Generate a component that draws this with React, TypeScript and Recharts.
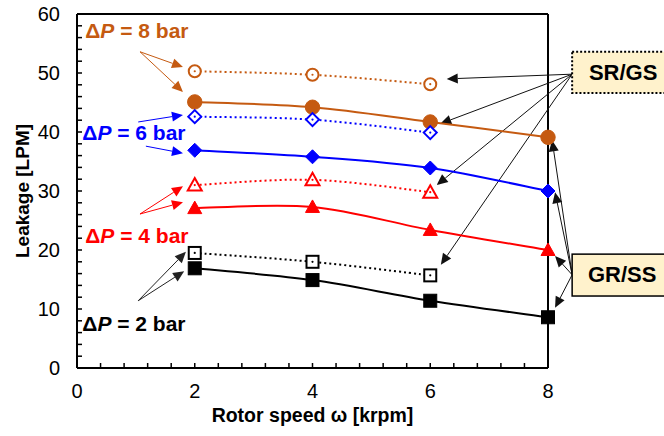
import React from "react";
import { LineChart, Line, XAxis, YAxis, usePlotArea } from "recharts";

// rotor speed [krpm]
const speeds = [2, 4, 6, 8];

// GR/SS (solid markers, solid lines)
const grss8 = [45.1, 44.2, 41.7, 39.1];
const grss6 = [36.9, 35.8, 33.9, 30.0];
const grss4 = [27.1, 27.3, 23.4, 20.0];
const grss2 = [16.9, 14.9, 11.4, 8.6];

// SR/GS (hollow markers, dotted lines) - no 8 krpm point
const srgs8 = [50.3, 49.7, 48.1];
const srgs6 = [42.6, 42.1, 39.9];
const srgs4 = [31.0, 31.9, 29.8];
const srgs2 = [19.5, 18.0, 15.7];

const xLabels = [0, 2, 4, 6, 8];
const yLabels = [0, 10, 20, 30, 40, 50, 60];
const xMinorStep = 0.4;
const yMinorStep = 2;

const BROWN = "#C55A11";
const BLUE = "#0000FF";
const RED = "#FF0000";
const BLACK = "#000000";
const FONT = "'Liberation Sans', Arial, sans-serif";

const data = speeds.map((s, i) => ({
  speed: s,
  g8: grss8[i],
  g6: grss6[i],
  g4: grss4[i],
  g2: grss2[i],
  s8: srgs8[i] ?? null,
  s6: srgs6[i] ?? null,
  s4: srgs4[i] ?? null,
  s2: srgs2[i] ?? null,
}));

// Excel-like smoothed line (Catmull-Rom through the points)
// eslint-disable-next-line @typescript-eslint/no-explicit-any
function smooth(context: any) {
  let pts: [number, number][] = [];
  return {
    areaStart() {},
    areaEnd() {},
    lineStart() {
      pts = [];
    },
    lineEnd() {
      if (!pts.length) return;
      context.moveTo(pts[0][0], pts[0][1]);
      for (let i = 0; i < pts.length - 1; i++) {
        const p0 = pts[i - 1] || pts[i];
        const p1 = pts[i];
        const p2 = pts[i + 1];
        const p3 = pts[i + 2] || p2;
        const t = 1 / 6;
        context.bezierCurveTo(
          p1[0] + (p2[0] - p0[0]) * t,
          p1[1] + (p2[1] - p0[1]) * t,
          p2[0] - (p3[0] - p1[0]) * t,
          p2[1] - (p3[1] - p1[1]) * t,
          p2[0],
          p2[1]
        );
      }
    },
    point(x: number, y: number) {
      pts.push([x, y]);
    },
  };
}

type Shape = "circle" | "diamond" | "triangle" | "square";

function makeDot(shape: Shape, filled: boolean, color: string) {
  // eslint-disable-next-line @typescript-eslint/no-explicit-any
  return (p: any) => {
    const { cx, cy, index, value } = p;
    const key = `${shape}-${filled}-${index}`;
    if (value == null || cx == null || cy == null || isNaN(cy)) return <g key={key} />;
    const fill = filled ? color : "#fff";
    const sw = filled ? 1 : 2;
    let el: React.ReactNode;
    if (shape === "circle") {
      el = <circle cx={cx} cy={cy} r={filled ? 7.2 : 6} fill={fill} stroke={color} strokeWidth={sw} />;
    } else if (shape === "diamond") {
      const r = filled ? 7 : 6.5;
      el = (
        <polygon
          points={`${cx},${cy - r} ${cx + r},${cy} ${cx},${cy + r} ${cx - r},${cy}`}
          fill={fill}
          stroke={color}
          strokeWidth={sw}
        />
      );
    } else if (shape === "triangle") {
      const w = 7;
      el = (
        <polygon
          points={`${cx},${cy - 7} ${cx + w},${cy + 5.5} ${cx - w},${cy + 5.5}`}
          fill={fill}
          stroke={color}
          strokeWidth={sw}
        />
      );
    } else {
      const s = filled ? 6.5 : 6;
      el = <rect x={cx - s} y={cy - s} width={2 * s} height={2 * s} fill={fill} stroke={color} strokeWidth={sw} />;
    }
    return (
      <g key={key}>
        {el}
        {!filled && <circle cx={cx} cy={cy} r={1.1} fill={color} />}
      </g>
    );
  };
}

function Arrow({ x1, y1, x2, y2, color }: { x1: number; y1: number; x2: number; y2: number; color: string }) {
  const dx = x2 - x1;
  const dy = y2 - y1;
  const len = Math.hypot(dx, dy);
  const ux = dx / len;
  const uy = dy / len;
  const hl = 11;
  const hw = 5;
  const bx = x2 - ux * hl;
  const by = y2 - uy * hl;
  return (
    <g>
      <line x1={x1} y1={y1} x2={bx} y2={by} stroke={color} strokeWidth={1} />
      <polygon
        points={`${x2},${y2} ${bx - uy * hw},${by + ux * hw} ${bx + uy * hw},${by - ux * hw}`}
        fill={color}
      />
    </g>
  );
}

// annotation anchors in data units [speed, leakage]
const pressureLabels = [
  { text: "8", color: BROWN, at: [0.14, 55.9] },
  { text: "6", color: BLUE, at: [0.09, 38.6] },
  { text: "4", color: RED, at: [0.14, 21.2] },
  { text: "2", color: BLACK, at: [0.09, 6.3] },
];
const pressureArrows = [
  { color: BROWN, from: [1.07, 53.6], to: [1.8, 51.0] },
  { color: BROWN, from: [1.07, 53.6], to: [1.8, 46.8] },
  { color: BLUE, from: [1.04, 41.7], to: [1.8, 42.9] },
  { color: BLUE, from: [1.17, 37.6], to: [1.8, 36.4] },
  { color: RED, from: [1.07, 26.1], to: [1.8, 30.8] },
  { color: RED, from: [1.07, 26.1], to: [1.8, 28.1] },
  { color: "#222", from: [1.04, 11.4], to: [1.85, 19.7] },
  { color: "#222", from: [1.04, 11.4], to: [1.82, 16.4] },
];
const srgsFrom = [8.41, 49.8];
const srgsTips = [
  [6.28, 49.0],
  [6.17, 41.4],
  [6.11, 31.0],
  [6.18, 17.5],
];
const grssFrom = [8.41, 15.8];
const grssTips = [
  [8.07, 38.6],
  [8.12, 29.8],
  [8.12, 19.0],
  [8.12, 10.2],
];

function Overlay() {
  const area = usePlotArea();
  if (!area) return null;
  const sx = (v: number) => area.x + (v / 8) * area.width;
  const sy = (v: number) => area.y + area.height - (v / 60) * area.height;
  const bottom = area.y + area.height;
  const right = area.x + area.width;

  const xt: number[] = [];
  for (let v = 0; v <= 8 + 1e-9; v += xMinorStep) xt.push(v);
  const yt: number[] = [];
  for (let v = 0; v <= 60; v += yMinorStep) yt.push(v);

  return (
    <g fontFamily={FONT}>
      {/* frame */}
      <line x1={area.x} y1={area.y} x2={right} y2={area.y} stroke="#000" strokeWidth={2} />
      <line x1={right} y1={area.y} x2={right} y2={bottom} stroke="#000" strokeWidth={2} />
      {/* inward ticks */}
      {xt.map((v) => (
        <line key={`xt${v}`} x1={sx(v)} x2={sx(v)} y1={bottom} y2={bottom - 5} stroke="#000" strokeWidth={1.5} />
      ))}
      {yt.map((v) => (
        <line key={`yt${v}`} x1={area.x} x2={area.x + 5} y1={sy(v)} y2={sy(v)} stroke="#000" strokeWidth={1.5} />
      ))}
      {/* axis titles */}
      <text
        x={area.x + area.width / 2}
        y={bottom + 47}
        textAnchor="middle"
        dominantBaseline="central"
        fontSize={19.5}
        fontWeight="bold"
      >
        Rotor speed ω [krpm]
      </text>
      <text
        x={22}
        y={area.y + area.height / 2}
        textAnchor="middle"
        dominantBaseline="central"
        fontSize={19}
        fontWeight="bold"
        transform={`rotate(-90 22 ${area.y + area.height / 2})`}
      >
        Leakage [LPM]
      </text>
      {/* ΔP labels */}
      {pressureLabels.map((l) => (
        <text key={l.text} x={sx(l.at[0])} y={sy(l.at[1])} fill={l.color} fontSize={21} fontWeight="bold">
          Δ<tspan fontStyle="italic">P</tspan> = {l.text} bar
        </text>
      ))}
      {pressureArrows.map((a, i) => (
        <Arrow key={`pa${i}`} x1={sx(a.from[0])} y1={sy(a.from[1])} x2={sx(a.to[0])} y2={sy(a.to[1])} color={a.color} />
      ))}
      {srgsTips.map((t, i) => (
        <Arrow key={`sa${i}`} x1={sx(srgsFrom[0])} y1={sy(srgsFrom[1])} x2={sx(t[0])} y2={sy(t[1])} color="#111" />
      ))}
      {grssTips.map((t, i) => (
        <Arrow key={`ga${i}`} x1={sx(grssFrom[0])} y1={sy(grssFrom[1])} x2={sx(t[0])} y2={sy(t[1])} color="#111" />
      ))}
      {/* boxes */}
      <rect
        x={sx(8.41)}
        y={sy(53.6)}
        width={100}
        height={sy(46.6) - sy(53.6)}
        fill="#FFF2CC"
        stroke="#000"
        strokeWidth={2}
        strokeDasharray="2 2"
      />
      <text
        x={sx(8.41) + 51}
        y={sy(50.1)}
        textAnchor="middle"
        dominantBaseline="central"
        fontSize={22}
        fontWeight="bold"
      >
        SR/GS
      </text>
      <rect
        x={sx(8.41)}
        y={sy(19.3)}
        width={100}
        height={sy(12.2) - sy(19.3)}
        fill="#FFF2CC"
        stroke="#000"
        strokeWidth={1.5}
      />
      <text
        x={sx(8.41) + 50}
        y={sy(15.8)}
        textAnchor="middle"
        dominantBaseline="central"
        fontSize={22}
        fontWeight="bold"
      >
        GR/SS
      </text>
    </g>
  );
}

const tickStyle = { fill: "#000", fontSize: 20, fontFamily: FONT };

export default function App() {
  return (
    <div style={{ position: "absolute", left: 0, top: 0, width: 664, height: 436, background: "#fff" }}>
      <LineChart width={664} height={436} data={data} margin={{ top: 14, right: 116, bottom: 38, left: 0 }}>
        <XAxis
          dataKey="speed"
          type="number"
          domain={[0, 8]}
          ticks={xLabels}
          tickLine={false}
          tickSize={0}
          tickMargin={16}
          height={30}
          axisLine={{ stroke: "#000", strokeWidth: 2 }}
          tick={tickStyle}
        />
        <YAxis
          type="number"
          domain={[0, 60]}
          ticks={yLabels}
          tickLine={false}
          tickSize={0}
          tickMargin={17}
          width={77}
          axisLine={{ stroke: "#000", strokeWidth: 2 }}
          tick={tickStyle}
        />
        <Line dataKey="g8" type={smooth} stroke={BROWN} strokeWidth={2} dot={makeDot("circle", true, BROWN)} isAnimationActive={false} />
        <Line dataKey="g6" type={smooth} stroke={BLUE} strokeWidth={2} dot={makeDot("diamond", true, BLUE)} isAnimationActive={false} />
        <Line dataKey="g4" type={smooth} stroke={RED} strokeWidth={2} dot={makeDot("triangle", true, RED)} isAnimationActive={false} />
        <Line dataKey="g2" type={smooth} stroke={BLACK} strokeWidth={2} dot={makeDot("square", true, BLACK)} isAnimationActive={false} />
        <Line dataKey="s8" type={smooth} stroke={BROWN} strokeWidth={2} strokeDasharray="2 3" dot={makeDot("circle", false, BROWN)} isAnimationActive={false} />
        <Line dataKey="s6" type={smooth} stroke={BLUE} strokeWidth={2} strokeDasharray="2 3" dot={makeDot("diamond", false, BLUE)} isAnimationActive={false} />
        <Line dataKey="s4" type={smooth} stroke={RED} strokeWidth={2} strokeDasharray="2 3" dot={makeDot("triangle", false, RED)} isAnimationActive={false} />
        <Line dataKey="s2" type={smooth} stroke={BLACK} strokeWidth={2} strokeDasharray="2 3" dot={makeDot("square", false, BLACK)} isAnimationActive={false} />
        <Overlay />
      </LineChart>
    </div>
  );
}
